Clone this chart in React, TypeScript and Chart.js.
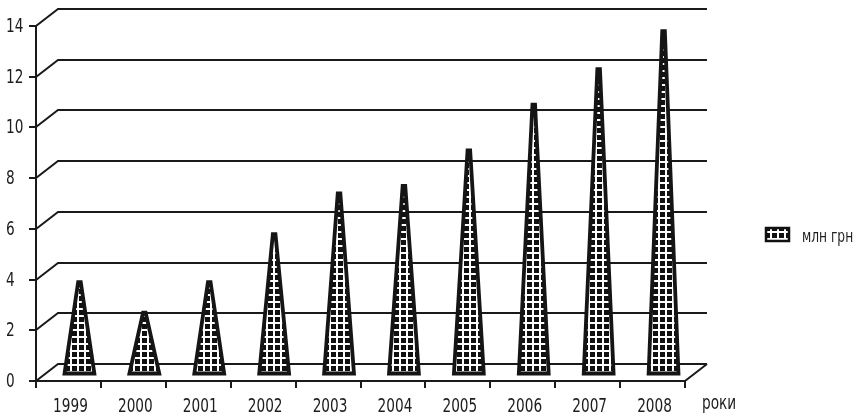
import React, { useEffect, useRef } from "react";
import { Chart, registerables } from "chart.js";

Chart.register(...registerables);

const categories = ["1999", "2000", "2001", "2002", "2003", "2004", "2005", "2006", "2007", "2008"];
const values = [3.6, 2.4, 3.6, 5.5, 7.1, 7.4, 8.8, 10.6, 12.0, 13.5];
const seriesLabel = "млн грн";
const xAxisTitle = "роки";
const yMin = 0;
const yMax = 14;
const yStep = 2;

const FONT = "'DejaVu Sans Condensed', 'Liberation Sans Narrow', 'Liberation Sans', sans-serif";
const TEXT_SQUEEZE = 0.8;
const DX = 22;
const DY = 17;
const LINE = "#1a1a1a";
const TEXT = "#1d1d1d";

function makePattern(ctx: CanvasRenderingContext2D) {
  const c = document.createElement("canvas");
  c.width = 7;
  c.height = 7;
  const g = c.getContext("2d")!;
  g.fillStyle = "#111";
  g.fillRect(0, 0, 7, 7);
  g.fillStyle = "#fff";
  g.fillRect(0, 0, 7, 2);
  g.fillRect(0, 0, 2, 7);
  return ctx.createPattern(c, "repeat")!;
}

function squeezedText(ctx: CanvasRenderingContext2D, text: string, x: number, y: number, align: CanvasTextAlign, baseline: CanvasTextBaseline, size: number) {
  ctx.save();
  ctx.translate(x, y);
  ctx.scale(TEXT_SQUEEZE, 1);
  ctx.font = `${size}px ${FONT}`;
  ctx.fillStyle = TEXT;
  ctx.textAlign = align;
  ctx.textBaseline = baseline;
  ctx.fillText(text, 0, 0);
  ctx.restore();
}

const threeD = {
  id: "threeD",
  beforeDatasetsDraw(chart: any) {
    const { ctx, chartArea: ca, scales } = chart;
    const y = scales.y;
    ctx.save();
    ctx.strokeStyle = LINE;
    ctx.lineWidth = 2;
    y.ticks.forEach((t: any) => {
      const py = Math.round(y.getPixelForValue(t.value));
      ctx.beginPath();
      ctx.moveTo(ca.left, py);
      ctx.lineTo(ca.left + DX, py - DY);
      ctx.lineTo(ca.right + DX, py - DY);
      ctx.stroke();
    });
    const y0 = Math.round(y.getPixelForValue(0));
    ctx.beginPath();
    ctx.moveTo(ca.right, y0);
    ctx.lineTo(ca.right + DX, y0 - DY);
    ctx.stroke();
    ctx.restore();
  },
  beforeDatasetDraw() {
    return false;
  },
  afterDatasetsDraw(chart: any) {
    const { ctx, scales } = chart;
    const y = scales.y;
    const pattern = makePattern(ctx);
    const base = y.getPixelForValue(0) - DY / 2 + 1;
    const meta = chart.getDatasetMeta(0);
    meta.data.forEach((bar: any) => {
      const p = bar.getProps(["x", "y", "width"], true);
      const cx = p.x + DX / 2;
      const top = p.y - DY / 2;
      const hw = p.width / 2;
      ctx.save();
      ctx.beginPath();
      ctx.moveTo(cx - hw, base);
      ctx.lineTo(cx - 1.3, top + 1);
      ctx.lineTo(cx + 1.3, top + 1);
      ctx.lineTo(cx + hw, base);
      ctx.closePath();
      ctx.fillStyle = pattern;
      ctx.fill();
      ctx.lineWidth = 3.8;
      ctx.lineJoin = "miter";
      ctx.strokeStyle = "#151515";
      ctx.stroke();
      ctx.restore();
    });
  },
  afterDraw(chart: any) {
    const { ctx, chartArea: ca, scales } = chart;
    const x = scales.x;
    const y = scales.y;
    y.ticks.forEach((t: any) => {
      squeezedText(ctx, String(t.value), 6, y.getPixelForValue(t.value) + 1, "left", "middle", 19);
    });
    chart.data.labels.forEach((lab: string, i: number) => {
      squeezedText(ctx, lab, x.getPixelForValue(i) + 2, 412, "center", "alphabetic", 19);
    });
    squeezedText(ctx, xAxisTitle, ca.right + 17, 409, "left", "alphabetic", 19);
    ctx.save();
    const pattern = makePattern(ctx);
    ctx.fillStyle = pattern;
    ctx.fillRect(766, 228, 23, 13);
    ctx.strokeStyle = "#111";
    ctx.lineWidth = 2.5;
    ctx.strokeRect(766, 228, 23, 13);
    ctx.restore();
    squeezedText(ctx, chart.data.datasets[0].label, 802, 242, "left", "alphabetic", 17);
  },
};

export default function App() {
  const ref = useRef<HTMLCanvasElement>(null);
  useEffect(() => {
    const chart = new Chart(ref.current!, {
      type: "bar",
      data: {
        labels: categories,
        datasets: [
          {
            label: seriesLabel,
            data: values,
            backgroundColor: "#111",
            categoryPercentage: 1,
            barPercentage: 0.46,
          },
        ],
      },
      options: {
        animation: false,
        responsive: false,
        layout: { padding: { top: 26, right: 172, bottom: 0, left: 0 } },
        plugins: { legend: { display: false }, tooltip: { enabled: false } },
        scales: {
          x: {
            offset: true,
            grid: { offset: true, drawOnChartArea: false, drawTicks: true, tickLength: 7, color: LINE, lineWidth: 2 },
            border: { display: true, color: LINE, width: 2 },
            ticks: { display: false },
            afterFit: (s: any) => {
              s.height = 35;
            },
          },
          y: {
            min: yMin,
            max: yMax,
            ticks: { display: false, stepSize: yStep },
            grid: { drawOnChartArea: false, drawTicks: true, tickLength: 7, color: LINE, lineWidth: 2 },
            border: { display: true, color: LINE, width: 2 },
            afterFit: (s: any) => {
              s.width = 36;
            },
          },
        },
      },
      plugins: [threeD],
    });
    return () => chart.destroy();
  }, []);
  return (
    <div style={{ position: "absolute", left: 0, top: 0, width: 857, height: 416, background: "#fff" }}>
      <canvas ref={ref} width={857} height={416} style={{ display: "block" }} />
    </div>
  );
}
